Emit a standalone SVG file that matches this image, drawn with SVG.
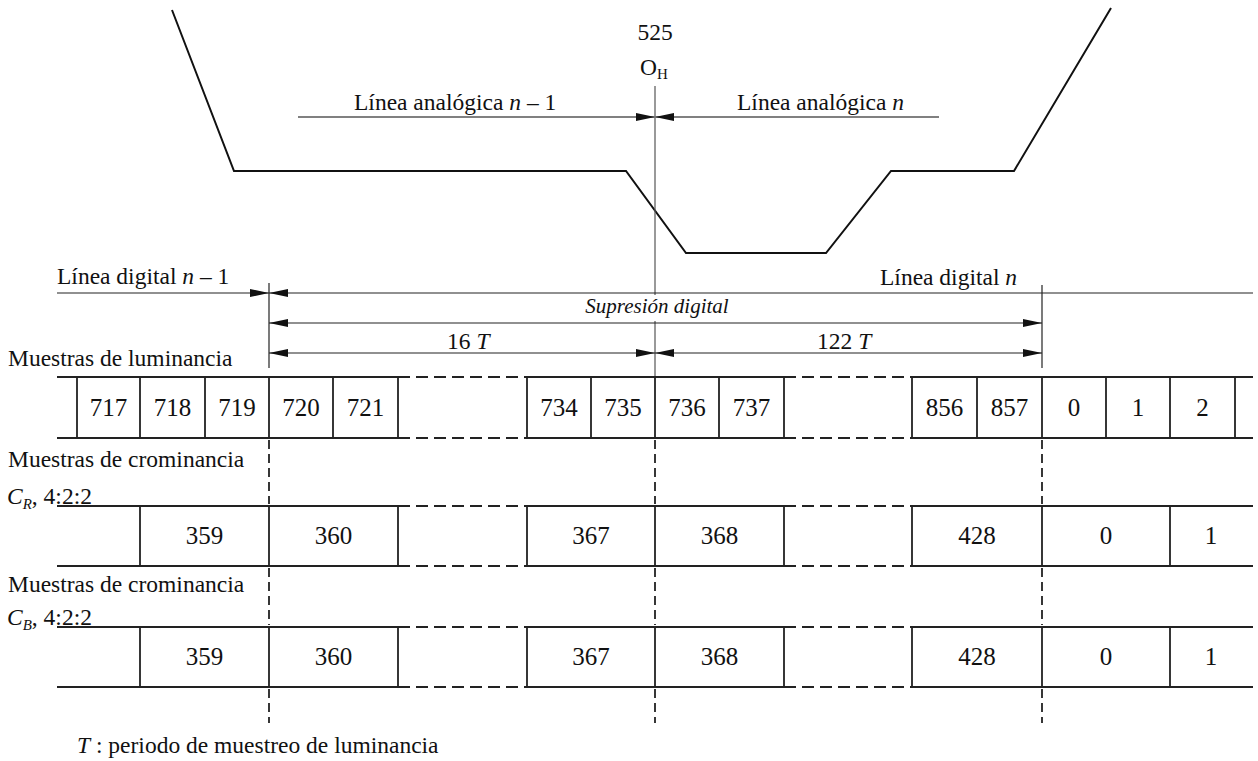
<svg xmlns="http://www.w3.org/2000/svg" width="1258" height="761" viewBox="0 0 1258 761">
<defs>
<style>
text{font-family:"Liberation Serif","Times New Roman",serif;font-size:23.5px;fill:#111}
.num{text-anchor:middle;font-size:25px}
.it{font-style:italic}
.sup{font-size:21px}
.wave{fill:none;stroke:#111;stroke-width:2}
.dim{stroke:#222;stroke-width:1.2;fill:none}
.gray{stroke:#808080;stroke-width:1.8;fill:none}
.box{stroke:#222;stroke-width:1.8;fill:none}
.dash{stroke:#222;stroke-width:1.8;fill:none;stroke-dasharray:12 6}
.vdash{stroke:#222;stroke-width:1.8;fill:none;stroke-dasharray:9 5}
</style>
<marker id="ah" markerUnits="userSpaceOnUse" viewBox="0 0 19 8" refX="19" refY="4" markerWidth="19" markerHeight="8" orient="auto-start-reverse">
<path d="M0,0 L19,4 L0,8 z" fill="#111"/>
</marker>
</defs>

<g id="waveform">
<polyline class="wave" points="172,10 234,171 626,171 686,253 826,253 891,171 1014,171 1111,8"/>
</g>

<g id="connectors">
<line class="gray" x1="655" y1="86" x2="655" y2="377" style="stroke-width:1.2;stroke:#555"/>
<line class="gray" x1="298" y1="117" x2="655" y2="117" marker-end="url(#ah)"/>
<line class="gray" x1="939" y1="117" x2="655" y2="117" marker-end="url(#ah)"/>
<line class="dim" x1="269" y1="283" x2="269" y2="368"/>
<line class="dim" x1="1042" y1="285" x2="1042" y2="368"/>
<line class="dim" x1="57" y1="293" x2="269" y2="293" marker-end="url(#ah)"/>
<line class="dim" x1="1253" y1="293" x2="269" y2="293" marker-end="url(#ah)"/>
<line class="dim" x1="269" y1="323" x2="1042" y2="323" marker-start="url(#ah)" marker-end="url(#ah)"/>
<line class="dim" x1="269" y1="353" x2="655" y2="353" marker-start="url(#ah)" marker-end="url(#ah)"/>
<line class="dim" x1="655" y1="353" x2="1042" y2="353" marker-start="url(#ah)" marker-end="url(#ah)"/>
<g id="guides">
<path class="vdash" d="M269,440 V504 M655,440 V504 M1042,440 V504 M269,568 V625 M655,568 V625 M1042,568 V625 M269,689 V723 M655,689 V723 M1042,689 V723"/>
</g>
</g>

<g id="labels-top">
<text x="655" y="40" text-anchor="middle">525</text>
<text x="640" y="75">O<tspan font-size="15" dy="4">H</tspan></text>
<text x="354" y="110">Línea analógica <tspan class="it">n</tspan> – 1</text>
<text x="737" y="110">Línea analógica <tspan class="it">n</tspan></text>
<text x="57" y="284">Línea digital <tspan class="it">n</tspan> – 1</text>
<text x="880" y="285">Línea digital <tspan class="it">n</tspan></text>
<rect x="583" y="295" width="150" height="26" fill="#fff"/>
<text x="657" y="313" text-anchor="middle" class="it sup">Supresión digital</text>
<text x="447" y="349">16 <tspan class="it">T</tspan></text>
<text x="817" y="349">122 <tspan class="it">T</tspan></text>
<text x="8" y="366">Muestras de luminancia</text>
<text x="8" y="467">Muestras de crominancia</text>
<text x="7" y="504"><tspan class="it">C</tspan><tspan class="it" font-size="15" dy="5">R</tspan><tspan dy="-5">, 4:2:2</tspan></text>
<text x="8" y="592">Muestras de crominancia</text>
<text x="7" y="625"><tspan class="it">C</tspan><tspan class="it" font-size="15" dy="5">B</tspan><tspan dy="-5">, 4:2:2</tspan></text>
<text x="77" y="753"><tspan class="it">T</tspan> : periodo de muestreo de luminancia</text>
</g>

<g id="luma-row">
<path class="box" d="M57,377 H398 M527,377 H784 M912,377 H1253 M57,438 H398 M527,438 H784 M912,438 H1253"/>
<path class="dash" d="M398,377 H527 M784,377 H912 M398,438 H527 M784,438 H912"/>
<path class="box" d="M77,377 V438 M140,377 V438 M205,377 V438 M269,377 V438 M333,377 V438 M398,377 V438 M527,377 V438 M591,377 V438 M655,377 V438 M719,377 V438 M784,377 V438 M912,377 V438 M977,377 V438 M1042,377 V438 M1106,377 V438 M1170,377 V438 M1235,377 V438"/>
<text class="num" x="108.5" y="416">717</text>
<text class="num" x="172.5" y="416">718</text>
<text class="num" x="237" y="416">719</text>
<text class="num" x="301" y="416">720</text>
<text class="num" x="365.5" y="416">721</text>
<text class="num" x="559" y="416">734</text>
<text class="num" x="623" y="416">735</text>
<text class="num" x="687" y="416">736</text>
<text class="num" x="751.5" y="416">737</text>
<text class="num" x="944.5" y="416">856</text>
<text class="num" x="1009.5" y="416">857</text>
<text class="num" x="1074" y="416">0</text>
<text class="num" x="1138" y="416">1</text>
<text class="num" x="1202.5" y="416">2</text>
</g>

<g id="cr-row">
<path class="box" d="M57,506 H398 M527,506 H784 M912,506 H1253 M57,566 H398 M527,566 H784 M912,566 H1253"/>
<path class="dash" d="M398,506 H527 M784,506 H912 M398,566 H527 M784,566 H912"/>
<path class="box" d="M140,506 V566 M269,506 V566 M398,506 V566 M527,506 V566 M655,506 V566 M784,506 V566 M912,506 V566 M1042,506 V566 M1170,506 V566"/>
<text class="num" x="204.5" y="544">359</text>
<text class="num" x="333.5" y="544">360</text>
<text class="num" x="591" y="544">367</text>
<text class="num" x="719.5" y="544">368</text>
<text class="num" x="977" y="544">428</text>
<text class="num" x="1106" y="544">0</text>
<text class="num" x="1211" y="544">1</text>
</g>

<g id="cb-row">
<path class="box" d="M57,627 H398 M527,627 H784 M912,627 H1253 M57,687 H398 M527,687 H784 M912,687 H1253"/>
<path class="dash" d="M398,627 H527 M784,627 H912 M398,687 H527 M784,687 H912"/>
<path class="box" d="M140,627 V687 M269,627 V687 M398,627 V687 M527,627 V687 M655,627 V687 M784,627 V687 M912,627 V687 M1042,627 V687 M1170,627 V687"/>
<text class="num" x="204.5" y="665">359</text>
<text class="num" x="333.5" y="665">360</text>
<text class="num" x="591" y="665">367</text>
<text class="num" x="719.5" y="665">368</text>
<text class="num" x="977" y="665">428</text>
<text class="num" x="1106" y="665">0</text>
<text class="num" x="1211" y="665">1</text>
</g>
</svg>
